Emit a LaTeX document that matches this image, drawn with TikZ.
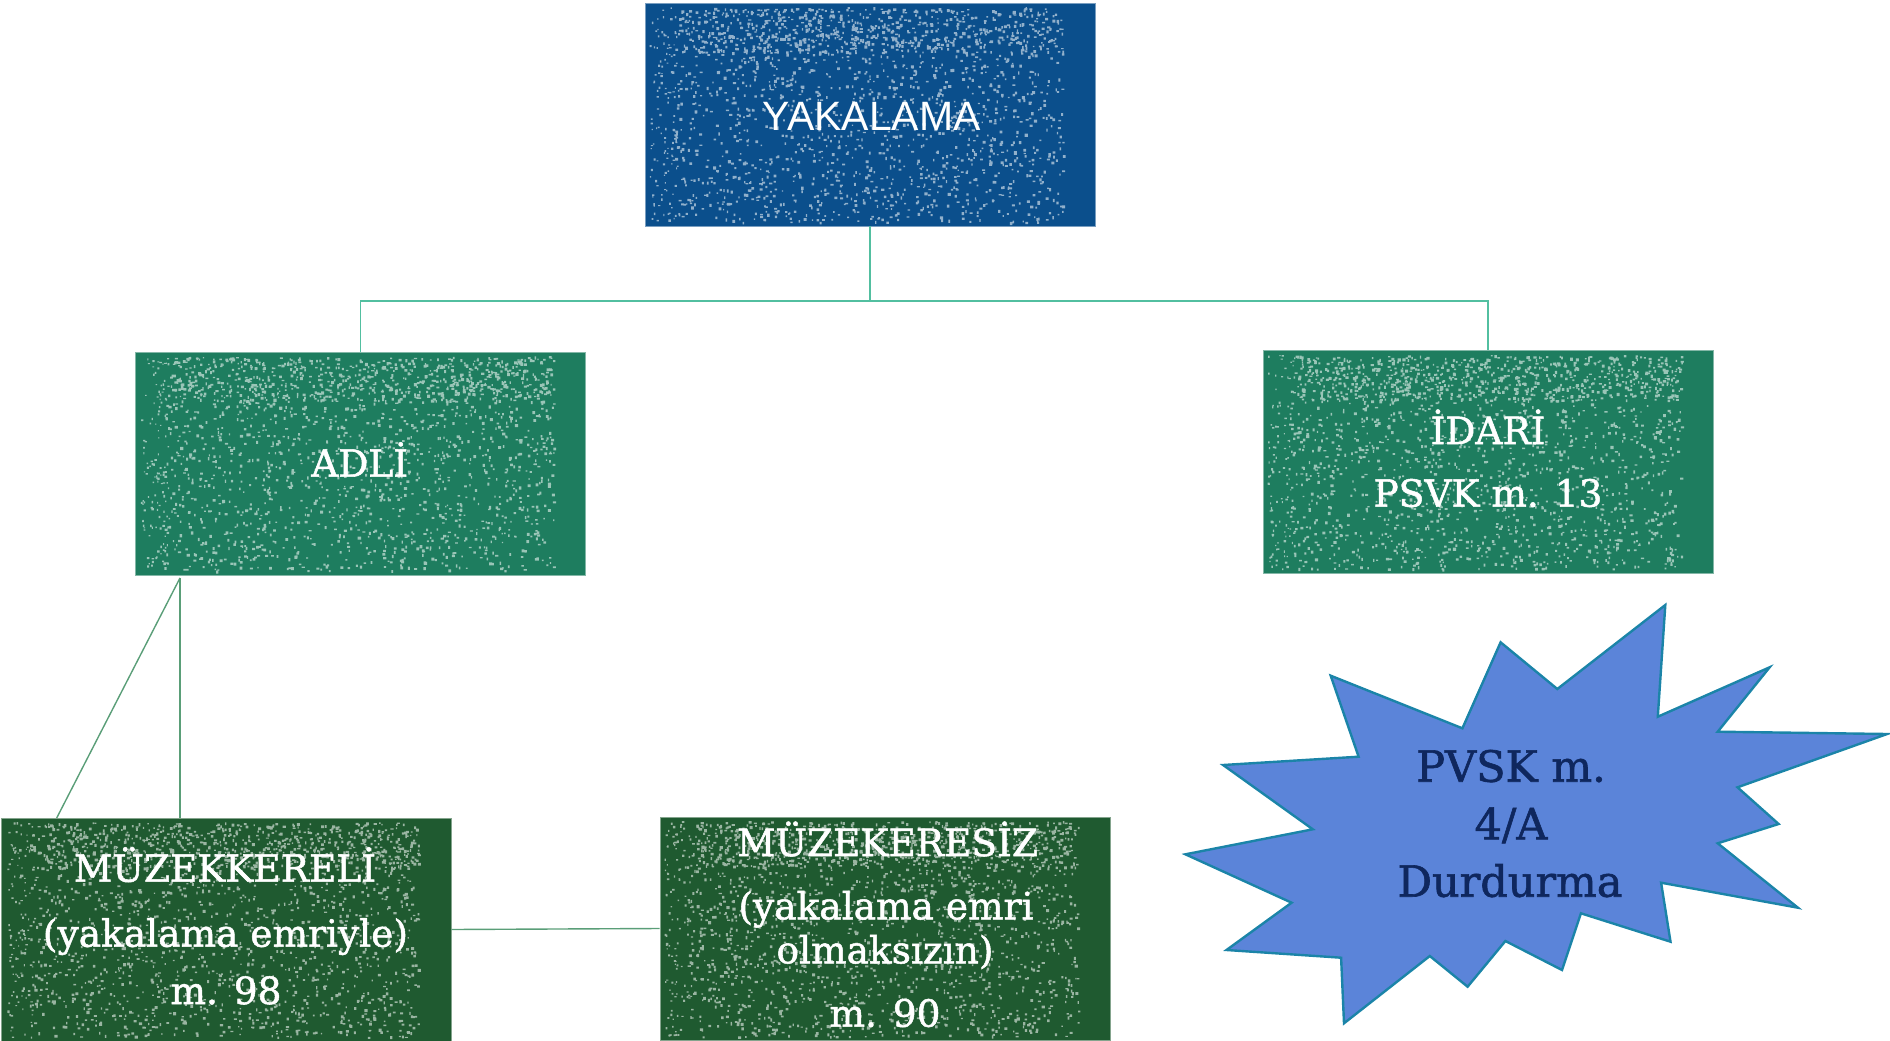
\documentclass[tikz,border=0pt]{standalone}
\usepackage{fontspec}
\setmainfont[FakeBold=1.4]{DejaVu Serif}
\newfontfamily\sansf{Liberation Sans}
\definecolor{boxblue}{HTML}{0B4F8C}
\definecolor{boxgreen}{HTML}{1E7D5F}
\definecolor{boxdark}{HTML}{1F5A30}
\definecolor{conntop}{HTML}{52BFA0}
\definecolor{connlow}{HTML}{5A9E78}
\definecolor{starfill}{HTML}{5B84D9}
\definecolor{starline}{HTML}{1B84A8}
\definecolor{startext}{HTML}{0F275E}
\newcommand\grunge[5]{%
  \fill[#5] \foreach \k in {1,...,1500}{%
    ({#1+0.06*(#3-#1)+rnd*0.87*(#3-#1)},{#2+4+rnd*(#4-#2-8)}) rectangle ++({1.2+rnd*2},{1.2+rnd*2})
  };
  \fill[#5] \foreach \k in {1,...,500}{%
    ({#1+0.08*(#3-#1)+rnd*0.85*(#3-#1)},{#2+5+rnd*0.2*(#4-#2)}) rectangle ++({1.2+rnd*2},{1.2+rnd*2})
  };
  \fill[#5] \foreach \k in {1,...,120}{%
    ({#1+0.01*(#3-#1)+rnd*0.06*(#3-#1)},{#2+4+rnd*(#4-#2-8)}) rectangle ++({1+rnd*1.5},{1+rnd*1.5})
  };
}
\begin{document}
\begin{tikzpicture}[x=1pt,y=-1pt,
  tbox/.style={rectangle,minimum width=450pt,minimum height=223pt,inner sep=0pt,line width=0.8pt},
  txt/.style={anchor=base,text=white,inner sep=0pt,font=\fontsize{37.5}{37.5}\selectfont},
  sttxt/.style={anchor=base,text=startext,inner sep=0pt,font=\fontsize{43}{43}\selectfont},
  conn/.style={draw=conntop,line width=1.4pt},
  connl/.style={draw=connlow,line width=1.4pt}]
\useasboundingbox (0,0) rectangle (1890,1041);
\pgfmathsetseed{2024}
% boxes
\node[tbox,fill=boxblue,draw=boxblue!55!white] (yak) at (870,114.5) {};
\node[tbox,fill=boxgreen,draw=boxgreen!55!white] (adli) at (360.5,463.5) {};
\node[tbox,fill=boxgreen,draw=boxgreen!55!white] (idari) at (1488,462) {};
\node[tbox,fill=boxdark,draw=boxdark!55!white] (muz1) at (226,929.5) {};
\node[tbox,fill=boxdark,draw=boxdark!55!white] (muz2) at (885,928.5) {};
% texture
\grunge{645}{3}{1095}{226}{boxblue!45!white}
\grunge{136}{352}{585}{575}{boxgreen!45!white}
\grunge{1263}{351}{1713}{573}{boxgreen!45!white}
\grunge{2}{818}{450}{1041}{boxdark!45!white}
\grunge{660}{817}{1110}{1041}{boxdark!45!white}
% connectors
\coordinate (j) at (870,301);
\draw[conn] (yak.south) -- (j) -| (adli.north);
\draw[conn] (j) -| (idari.north);
\coordinate (adlifoot) at (180,578);
\coordinate (muzv) at (180,818);
\coordinate (muzd) at (56.7,818);
\draw[connl] (adlifoot) -- (muzv);
\draw[connl] (adlifoot) -- (muzd);
\draw[connl] (muz1.east) -- (muz2.west);
% star
\draw[fill=starfill,draw=starline,line width=2.4pt,line join=miter]
  (1665.3,605) -- (1657.8,716.7) -- (1769.6,667.3) -- (1717.7,731.7) --
  (1887.1,734) -- (1737.5,787.3) -- (1778.6,824) -- (1717.7,843.3) --
  (1797.9,907.7) -- (1661.1,882.7) -- (1670.5,941.7) -- (1580.9,913.3) --
  (1562,970) -- (1505.4,941) -- (1467.6,986.7) -- (1429.8,956) --
  (1344,1023.3) -- (1341.1,957.7) -- (1226.5,950) -- (1291.6,902.7) --
  (1185.4,854.3) -- (1312.8,829.3) -- (1223.1,765) -- (1358.6,756.7) --
  (1330.7,675.7) -- (1462.4,728.3) -- (1500.6,642.3) -- (1557.3,689) -- cycle;
% texts
\node[anchor=base,text=white,inner sep=0pt,font=\sansf\fontsize{41}{41}\selectfont] (tyak) at (871.7,130) {YAKALAMA};
\node[txt] (tadli) at (359.7,476.7) {ADLİ};
\node[txt] (tidari1) at (1488,444) {İDARİ};
\node[txt] (tidari2) at (1488,506.7) {PSVK m. 13};
\node[txt] (tm1a) at (225,881.7) {MÜZEKKERELİ};
\node[txt] (tm1b) at (225.5,946.7) {(yakalama emriyle)};
\node[txt] (tm1c) at (226,1004) {m. 98};
\node[txt] (tm2a) at (887.5,856) {MÜZEKERESİZ};
\node[txt] (tm2b) at (886,919.3) {(yakalama emri};
\node[txt] (tm2c) at (885,963.3) {olmaksızın)};
\node[txt] (tm2d) at (885,1026.7) {m. 90};
\node[sttxt] (ts1) at (1511,781.7) {PVSK m.};
\node[sttxt] (ts2) at (1511,839.3) {4/A};
\node[sttxt] (ts3) at (1510,896.7) {Durdurma};
\end{tikzpicture}
\end{document}
